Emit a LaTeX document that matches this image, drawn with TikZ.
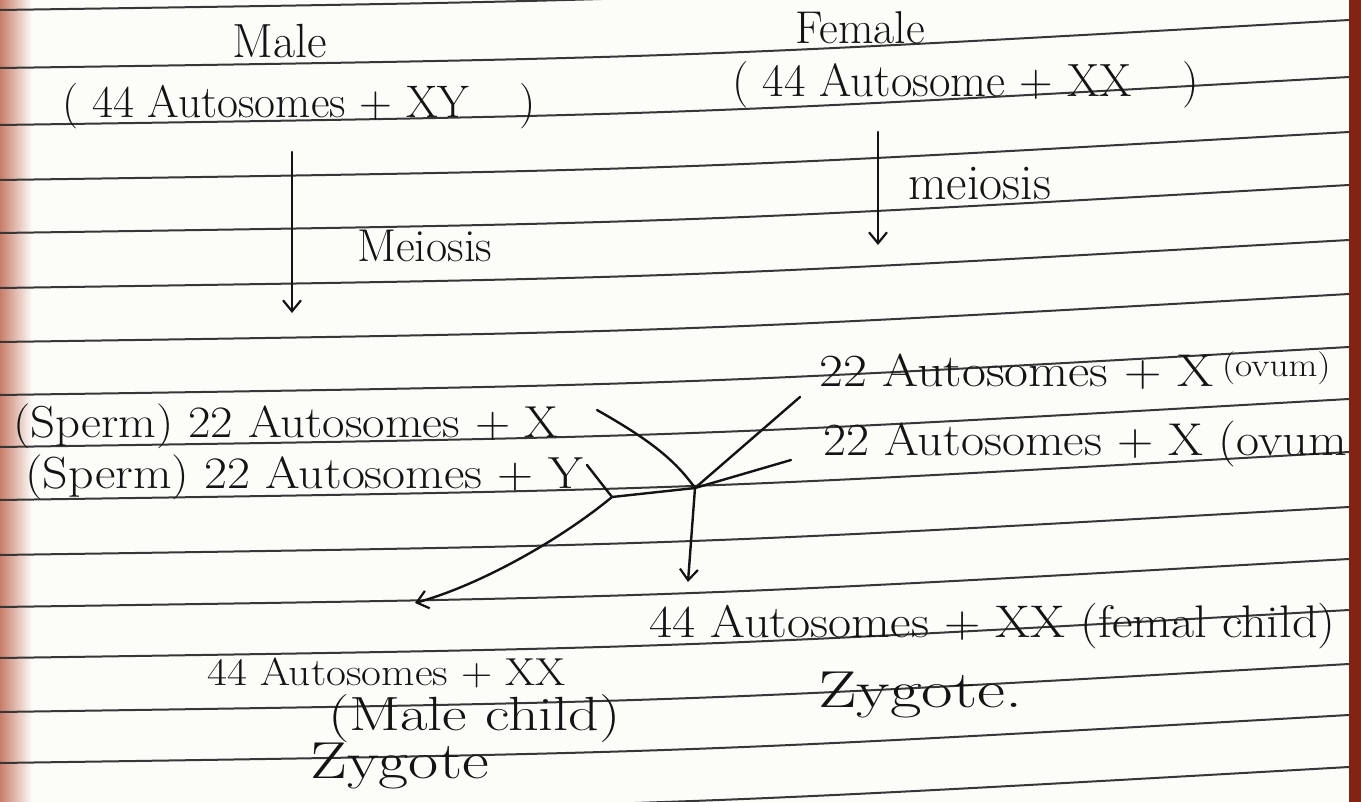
\documentclass[tikz,border=0pt]{standalone}
\usepackage{fontspec}
\setmainfont{Latin Modern Roman}
\usetikzlibrary{arrows.meta}
\definecolor{paper}{RGB}{252,252,249}
\definecolor{ink}{RGB}{20,20,20}
\definecolor{rulecol}{RGB}{55,55,55}
\definecolor{marginL}{RGB}{200,125,105}
\definecolor{marginR}{RGB}{130,35,20}
\newcommand{\fs}[1]{\fontsize{#1}{#1}\selectfont}
\newcommand{\sx}[2]{\scalebox{#1}[1]{#2}}
\tikzset{
  hw/.style={inner sep=0pt, anchor=base west, text=ink},
  conn/.style={draw=ink, line width=2.4pt, line cap=round, line join=round},
  arr/.style={conn, -{Straight Barb[length=11pt,width=18pt,line width=2.2pt]}},
  ruling/.style={draw=rulecol, line width=2pt},
}
\begin{document}
\begin{tikzpicture}[x=1pt,y=-1pt]
\useasboundingbox (0,0) rectangle (1361,802);
\fill[paper] (0,0) rectangle (1361,802);
\shade[left color=marginL, right color=paper] (0,0) rectangle (32,802);
\fill[marginR] (1349,0) rectangle (1361,802);
\foreach \y in {10,68,125,180,233,288,342,395,447,500,555,607,658,712,763,815}
  \draw[ruling] (0,\y) .. controls (680,\y-10) .. (1349,\y-48);

% texts
\node[hw, font=\fs{48}] (male) at (232,58) {Male};
\node[hw, font=\fs{45.6}] (maleg) at (62,118) {( 44 Autosomes + XY\hspace{1.1em})};
\node[hw, font=\fs{46}] (female) at (795,44) {Female};
\node[hw, font=\fs{46.6}] (femaleg) at (732,97) {( 44 Autosome + XX\hspace{1.1em})};
\node[hw, font=\fs{46}] (meim) at (357,262) {Meiosis};
\node[hw, font=\fs{50}] (meif) at (908,200) {meiosis};
\node[hw, font=\fs{44.8}] (spx) at (13,437) {\sx{1.09}{(Sperm) 22 Autosomes + X}};
\node[hw, font=\fs{45}] (spy) at (25,488) {\sx{1.11}{(Sperm) 22 Autosomes + Y}};
\node[hw, font=\fs{46}] (ov1) at (819,387) {\sx{1.13}{22 Autosomes + X\,\raisebox{10pt}{\fs{33}(ovum)}}};
\node[hw, font=\fs{46}] (ov2) at (823,455) {\sx{1.09}{22 Autosomes + X (ovum}};
\node[hw, font=\fs{39}] (mchild) at (207,685) {\sx{1.11}{44 Autosomes + XX}};
\node[hw, font=\fs{48}] (mchild2) at (328,730) {\sx{1.25}{(Male child)}};
\node[hw, font=\fs{52}] (mz) at (310,778) {\sx{1.26}{Zygote}};
\node[hw, font=\fs{45.7}] (fchild) at (649,637) {\sx{1.10}{44 Autosomes + XX (femal child)}};
\node[hw, font=\fs{52}] (fz) at (818,707) {\sx{1.32}{Zygote.}};

% connector points
\coordinate (ma1) at (292,152);
\coordinate (ma2) at (292,313);
\coordinate (fa1) at (878,132);
\coordinate (fa2) at (878,245);
\coordinate (J1) at (612,497);
\coordinate (J2) at (695,488);
\coordinate (sx) at (597,410);
\coordinate (sy) at (587,465);
\coordinate (o1) at (800,397);
\coordinate (o2) at (791,460);
\coordinate (fc) at (688,582);
\coordinate (mc) at (415,603);

\draw[arr] (ma1) -- (ma2);
\draw[arr] (fa1) -- (fa2);
\draw[conn] (sx) .. controls (650,440) and (675,460) .. (J2);
\draw[conn] (sy) -- (J1);
\draw[conn] (J1) -- (J2);
\draw[conn] (o1) -- (J2);
\draw[conn] (o2) -- (J2);
\draw[arr] (J2) -- (fc);
\draw[arr] (J1) .. controls (560,540) and (480,585) .. (mc);
\end{tikzpicture}
\end{document}
